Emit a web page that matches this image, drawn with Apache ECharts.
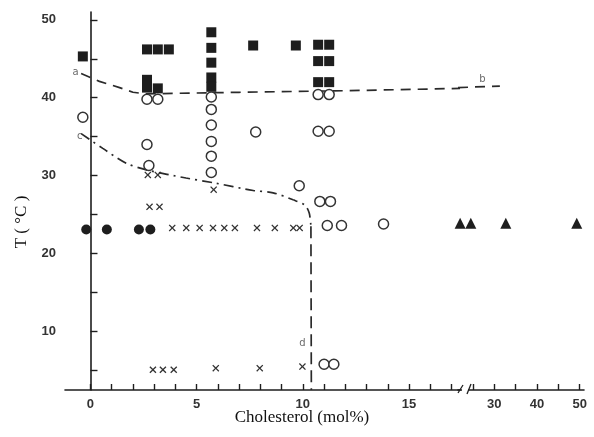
<!DOCTYPE html>
<html>
<head>
<meta charset="utf-8">
<script src="https://cdn.jsdelivr.net/npm/echarts@6/dist/echarts.min.js"></script>
<style>
  html, body { margin: 0; background: #fff; }
  #chart { width: 594px; height: 437px; }
</style>
</head>
<body>
<div id="chart"></div>
<script>
// cholesterol (mol%) , T (°C)
var filledSquares = [
  [-0.36, 45.3],
  [2.66, 46.2], [3.17, 46.2], [3.69, 46.2], [2.66, 42.3], [2.66, 41.3], [3.17, 41.2],
  [5.69, 48.4], [5.69, 46.4], [5.69, 44.5], [5.69, 42.6], [5.69, 41.4],
  [7.66, 46.7], [9.67, 46.7],
  [10.72, 46.8], [11.24, 46.8], [10.72, 44.7], [11.24, 44.7], [10.72, 42.0], [11.24, 42.0]
]
var openCircles = [
  [-0.36, 37.5],
  [2.66, 39.8], [3.17, 39.8], [2.66, 34.0], [2.75, 31.3],
  [5.69, 40.1], [5.69, 38.5], [5.69, 36.5], [5.69, 34.4], [5.69, 32.5], [5.69, 30.4],
  [7.78, 35.6], [9.83, 28.7],
  [10.72, 40.4], [11.24, 40.4], [10.72, 35.7], [11.24, 35.7],
  [10.8, 26.7], [11.3, 26.7], [11.15, 23.6], [11.82, 23.6], [13.8, 23.8],
  [11.0, 5.8], [11.46, 5.8]
]
var filledCircles = [[-0.2, 23.1], [0.77, 23.1], [2.28, 23.1], [2.82, 23.1]]
var crosses = [
  [2.7, 30.1], [3.17, 30.1], [2.78, 26.0], [3.25, 26.0], [5.8, 28.2],
  [3.85, 23.3], [4.51, 23.3], [5.14, 23.3], [5.77, 23.3], [6.3, 23.3], [6.8, 23.3],
  [7.84, 23.3], [8.68, 23.3], [9.55, 23.3], [9.85, 23.3],
  [2.94, 5.1], [3.41, 5.1], [3.92, 5.1], [5.9, 5.3], [7.97, 5.3], [9.98, 5.5]
]
var triangles = [[22.0, 23.9], [24.5, 23.9], [32.7, 23.9], [49.3, 23.9]]

// phase boundaries
var upperLine = [[-0.44, 43.1], [0.42, 42.1], [1.37, 41.3], [2.0, 40.7], [2.6, 40.5], [7, 40.7], [12, 40.9], [17.4, 41.2]]
var upperLineRight = [[21.5, 41.3], [31.3, 41.5]]
var lowerLine = [[-0.44, 35.4], [0.58, 33.5], [1.68, 31.6], [2.7, 30.7], [4.5, 29.7], [5.77, 29.1], [7.66, 28.1],
  [8.6, 27.8], [9.54, 26.9], [10.1, 26.2], [10.3, 25.2], [10.38, 23.5]]
var verticalLine = [[10.38, 23.5], [10.4, 2.5]]

var letters = [[-0.7, 43.2, 'a'], [-0.5, 35.1, 'c'], [9.98, 8.5, 'd']]
var lettersRight = [[27.2, 42.3, 'b']]

var ink = '#1e1e1e'
var tickFont = { color: '#333', fontSize: 13, fontWeight: 'bold', fontFamily: 'Liberation Sans' }
var crossPath = 'path://M0,1.3L1.3,0L5,3.7L8.7,0L10,1.3L6.3,5L10,8.7L8.7,10L5,6.3L1.3,10L0,8.7L3.7,5Z'

var chart = echarts.init(document.getElementById('chart'))

function dots(name, data, symbol, size, style, xi) {
  style.opacity = 1
  return {
    name: name, type: 'scatter', xAxisIndex: xi || 0, yAxisIndex: xi || 0,
    data: data, symbol: symbol, symbolSize: size, itemStyle: style,
    silent: true, z: 3
  }
}
function line(data, dash, xi, smooth) {
  return {
    type: 'line', xAxisIndex: xi || 0, yAxisIndex: xi || 0, data: data,
    symbol: 'none', smooth: smooth || false, silent: true,
    lineStyle: { color: '#2a2a2a', width: 1.7, type: dash }, z: 2
  }
}
function letterSeries(data, xi) {
  return {
    type: 'scatter', xAxisIndex: xi || 0, yAxisIndex: xi || 0, data: data,
    symbolSize: 1, itemStyle: { color: 'transparent' }, silent: true,
    label: { show: true, position: 'inside', formatter: function (p) { return p.data[2] },
      color: '#444', fontSize: 10, fontFamily: 'DejaVu Sans' }
  }
}

chart.setOption({
  animation: false,
  backgroundColor: '#fff',
  grid: [
    { left: 65, right: 134, top: 12, bottom: 47 },
    { left: 458, right: 10, top: 12, bottom: 47 }
  ],
  xAxis: [
    {
      gridIndex: 0, type: 'value', min: -1.2, max: 17.4,
      axisLine: { lineStyle: { color: ink, width: 1.6 } },
      axisTick: { inside: true, length: 6, lineStyle: { color: ink, width: 1.4 },
        customValues: [0, 1, 2, 3, 4, 5, 6, 7, 8, 9, 10, 11, 12, 13, 14, 15, 16, 17] },
      axisLabel: Object.assign({ customValues: [0, 5, 10, 15], margin: 8 }, tickFont),
      splitLine: { show: false }
    },
    {
      gridIndex: 1, type: 'value', min: 21.5, max: 51,
      axisLine: { lineStyle: { color: ink, width: 1.6 } },
      axisTick: { inside: true, length: 6, lineStyle: { color: ink, width: 1.4 },
        customValues: [25, 30, 35, 40, 45, 50] },
      axisLabel: Object.assign({ customValues: [30, 40, 50], margin: 8 }, tickFont),
      splitLine: { show: false }
    }
  ],
  yAxis: [
    {
      gridIndex: 0, type: 'value', min: 2.5, max: 51,
      axisLine: { show: true, lineStyle: { color: ink, width: 1.6 } },
      axisTick: { show: true, inside: true, length: 7, lineStyle: { color: ink, width: 1.4 },
        customValues: [5, 10, 15, 20, 25, 30, 35, 40, 45, 50] },
      axisLabel: Object.assign({ customValues: [10, 20, 30, 40, 50], margin: 9 }, tickFont),
      splitLine: { show: false }
    },
    {
      gridIndex: 1, type: 'value', min: 2.5, max: 51, show: false
    }
  ],
  graphic: [
    // axis break
    { type: 'rect', shape: { x: 462, y: 384, width: 6, height: 10 }, style: { fill: '#fff' }, z: 50 },
    { type: 'line', shape: { x1: 458, y1: 393, x2: 463, y2: 385 }, style: { stroke: ink, lineWidth: 1.3 }, z: 51 },
    { type: 'line', shape: { x1: 467, y1: 394, x2: 471, y2: 384 }, style: { stroke: ink, lineWidth: 1.3 }, z: 51 },
    { type: 'text', x: 302, y: 418, style: { text: 'Cholesterol (mol%)', fill: '#111', fontSize: 17,
        fontFamily: 'Liberation Serif', textAlign: 'center', textVerticalAlign: 'middle' } },
    { type: 'text', x: 22, y: 222, rotation: Math.PI / 2, style: { text: 'T ( °C )', fill: '#111', fontSize: 17,
        fontFamily: 'Liberation Serif', textAlign: 'center', textVerticalAlign: 'middle' } }
  ],
  series: [
    line(upperLine, [10, 7]),
    line(upperLineRight, [10, 7], 1),
    line(lowerLine, [10, 5, 2, 5], 0, 0.3),
    line(verticalLine, [12, 6]),
    dots('filled squares', filledSquares, 'rect', 10, { color: ink }),
    dots('open circles', openCircles, 'circle', 10, { color: '#fff', borderColor: '#333', borderWidth: 1.5 }),
    dots('filled circles', filledCircles, 'circle', 10, { color: ink }),
    dots('crosses', crosses, crossPath, 7, { color: '#333' }),
    dots('triangles', triangles, 'triangle', 11, { color: ink }, 1),
    letterSeries(letters),
    letterSeries(lettersRight, 1)
  ]
})
</script>
</body>
</html>
